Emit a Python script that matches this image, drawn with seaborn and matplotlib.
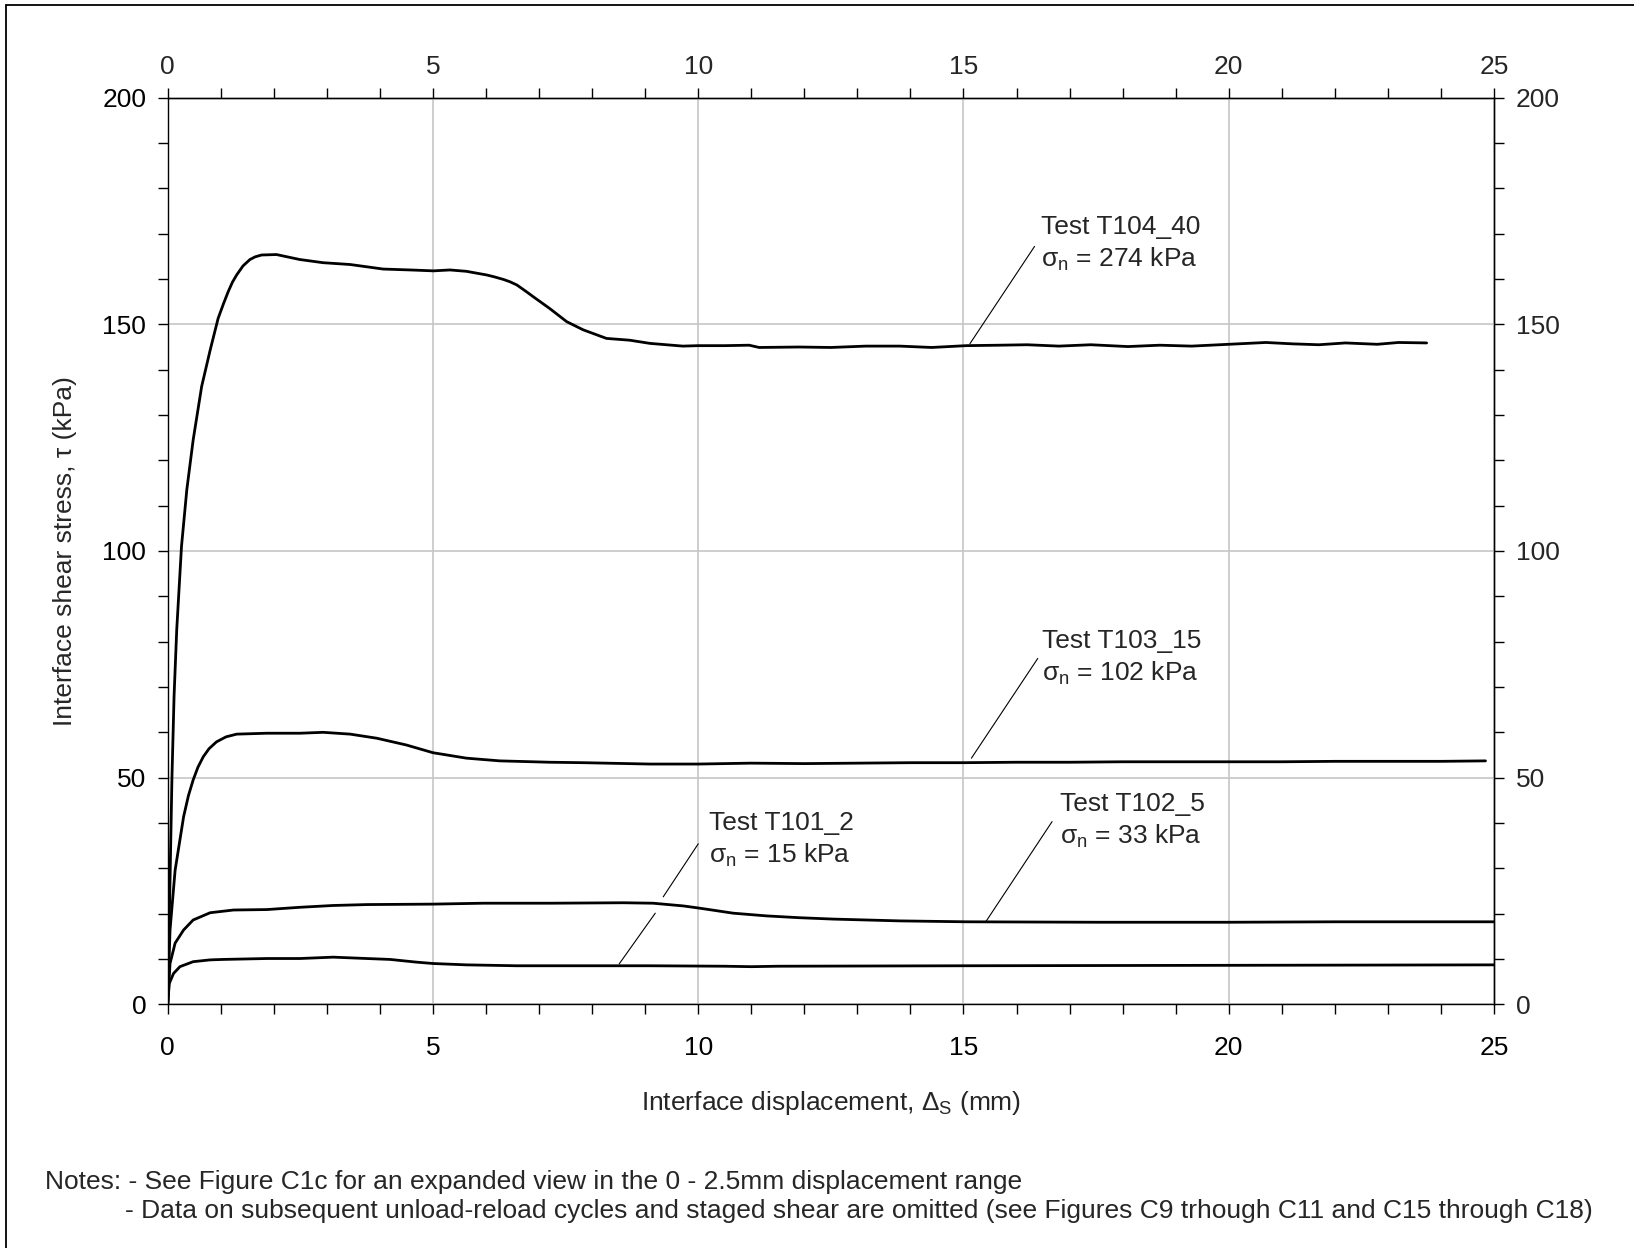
import matplotlib
matplotlib.use("Agg")
import matplotlib.pyplot as plt
from matplotlib.lines import Line2D
from matplotlib.ticker import MultipleLocator
import numpy as np
import pandas as pd
import seaborn as sns

# ---- shear stress vs displacement for each test ----
t104_x = [0, 0.04, 0.08, 0.12, 0.17, 0.26, 0.36, 0.48, 0.64, 0.80, 0.95, 1.05, 1.14,
          1.22, 1.30, 1.42, 1.55, 1.65, 1.77, 2.05, 2.49, 2.93, 3.44, 4.06, 4.57, 5.01,
          5.32, 5.63, 6.01, 6.15, 6.33, 6.45, 6.58, 6.75, 6.89, 7.20, 7.52, 7.83, 8.27,
          8.71, 9.09, 9.71, 10.0, 10.5, 10.96, 11.15, 11.9, 12.5, 13.16, 13.8, 14.4,
          15.05, 15.67, 16.2, 16.8, 17.4, 18.1, 18.7, 19.3, 20.0, 20.7, 21.2, 21.7,
          22.2, 22.8, 23.2, 23.73]
t104_y = [0, 25, 50, 68, 82.6, 101, 113.5, 124.5, 136.3, 144.3, 151.3, 154.5, 157.2,
          159.3, 160.9, 162.9, 164.3, 164.9, 165.3, 165.4, 164.3, 163.6, 163.2, 162.2,
          162.0, 161.8, 162.0, 161.7, 160.9, 160.5, 159.9, 159.4, 158.7, 157.3, 156.1,
          153.5, 150.6, 148.8, 146.9, 146.5, 145.8, 145.2, 145.3, 145.3, 145.4, 144.9,
          145.0, 144.9, 145.2, 145.2, 144.9, 145.3, 145.4, 145.5, 145.2, 145.5, 145.1,
          145.4, 145.2, 145.6, 146.0, 145.7, 145.5, 145.9, 145.6, 146.0, 145.9]

t103_x = [0, 0.044, 0.14, 0.30, 0.39, 0.48, 0.57, 0.67, 0.78, 0.92, 1.10, 1.30, 1.87,
          2.49, 2.93, 3.44, 3.94, 4.50, 5.0, 5.63, 6.26, 7.2, 7.83, 9.09, 10.0, 11.0,
          12.0, 13.0, 14.0, 15.0, 16.0, 17.0, 18.0, 19.0, 20.0, 21.0, 22.0, 23.0, 24.0,
          24.84]
t103_y = [0, 16.4, 29.6, 41.4, 46.0, 49.5, 52.3, 54.6, 56.4, 57.9, 59.0, 59.6, 59.8,
          59.8, 60.0, 59.6, 58.7, 57.2, 55.5, 54.3, 53.7, 53.4, 53.3, 53.0, 53.0, 53.2,
          53.1, 53.2, 53.3, 53.3, 53.4, 53.4, 53.5, 53.5, 53.5, 53.5, 53.6, 53.6, 53.6,
          53.7]

t102_x = [0, 0.044, 0.14, 0.30, 0.48, 0.80, 1.24, 1.87, 2.49, 3.12, 3.75, 5.0, 5.95,
          7.2, 8.59, 9.15, 9.72, 10.03, 10.66, 11.29, 11.91, 12.54, 13.17, 13.8, 15.05,
          17.56, 20.0, 22.0, 25.0]
t102_y = [0, 9.0, 13.5, 16.4, 18.6, 20.2, 20.8, 20.9, 21.4, 21.8, 22.0, 22.1, 22.3,
          22.3, 22.4, 22.3, 21.7, 21.2, 20.1, 19.5, 19.1, 18.8, 18.6, 18.4, 18.2, 18.1,
          18.1, 18.2, 18.2]

t101_x = [0, 0.03, 0.11, 0.23, 0.48, 0.80, 1.05, 1.87, 2.49, 3.12, 3.75, 4.19, 4.69,
          5.0, 5.63, 6.58, 9.09, 10.5, 11.0, 11.5, 15.0, 20.0, 25.0]
t101_y = [0, 4.6, 6.8, 8.3, 9.4, 9.8, 9.9, 10.1, 10.1, 10.4, 10.1, 9.9, 9.3, 9.0, 8.7,
          8.5, 8.5, 8.4, 8.3, 8.4, 8.5, 8.6, 8.7]

test_names = ["T104_40", "T103_15", "T102_5", "T101_2"]
normal_stress = [274, 102, 33, 15]

# label anchor (left x, baseline of first line) and leader segments per test
label_x = [16.47, 16.48, 16.82, 10.2]
label_y = [169.9, 78.5, 42.7, 38.5]
leaders = [
    [((15.12, 145.7), (16.34, 167.2))],
    [((15.15, 54.3), (16.40, 76.3))],
    [((15.42, 18.2), (16.67, 40.3))],
    [((8.51, 8.9), (9.19, 20.1)), ((9.34, 23.7), (10.0, 35.4))],
]

x_ticks = [0, 5, 10, 15, 20, 25]
y_ticks = [0, 50, 100, 150, 200]

frames = []
for name, xs, ys in zip(test_names,
                        [t104_x, t103_x, t102_x, t101_x],
                        [t104_y, t103_y, t102_y, t101_y]):
    frames.append(pd.DataFrame({"test": name, "disp": xs, "tau": ys}))
df = pd.concat(frames, ignore_index=True)

sns.set_theme(style="white")
plt.rcParams["font.family"] = ["Liberation Sans", "DejaVu Sans"]
plt.rcParams["mathtext.fontset"] = "custom"
plt.rcParams["mathtext.rm"] = "Liberation Sans"
plt.rcParams["mathtext.it"] = "Liberation Sans:italic"
plt.rcParams["mathtext.bf"] = "Liberation Sans:bold"

W, H = 1634, 1248
fig = plt.figure(figsize=(W / 100, H / 100), dpi=100)
fig.patch.set_facecolor("white")

L, R, T, B = 167.7, 1494.0, 97.7, 1004.3
ax = fig.add_axes([L / W, 1 - B / H, (R - L) / W, (B - T) / H])

sns.lineplot(data=df, x="disp", y="tau", units="test", estimator=None, sort=False,
             color="black", lw=2.0, ax=ax, legend=False)
for ln in ax.lines:
    ln.set_solid_joinstyle("round")

ax.set_xlim(0, 25)
ax.set_ylim(0, 200)
ax.set_xticks(x_ticks)
ax.set_yticks(y_ticks)
ax.xaxis.set_minor_locator(MultipleLocator(1))
ax.yaxis.set_minor_locator(MultipleLocator(10))
ax.grid(which="major", color="#c6c6c6", lw=1.2)
ax.set_axisbelow(True)

FS = 19
for s in ax.spines.values():
    s.set_color("black")
    s.set_linewidth(1.0)
    s.set_visible(True)

ax.tick_params(axis="both", which="both", direction="out", length=7, width=1.0,
               color="black", labelsize=FS, labelcolor="black")
ax.tick_params(axis="x", which="both", bottom=True, pad=15.5)
ax.tick_params(axis="y", which="both", left=True, pad=8.5)

top = ax.secondary_xaxis("top")
top.set_xticks(x_ticks)
top.xaxis.set_minor_locator(MultipleLocator(1))
top.tick_params(which="both", direction="out", length=7, width=1.0, color="black",
                labelsize=FS, pad=6.5)
top.spines["top"].set_linewidth(1.0)

right = ax.secondary_yaxis("right")
right.set_yticks(y_ticks)
right.yaxis.set_minor_locator(MultipleLocator(10))
right.tick_params(which="both", direction="out", length=7, width=1.0, color="black",
                  labelsize=FS, pad=8.5)
right.spines["right"].set_linewidth(1.0)

ax.set_xlabel("Interface displacement, $\\Delta_{\\mathrm{S}}$ (mm)", fontsize=FS)
ax.xaxis.label.set_va("baseline")
ax.xaxis.set_label_coords(0.5, (B - 1110) / (B - T))
ax.set_ylabel("Interface shear stress, τ (kPa)", fontsize=FS)
ax.yaxis.label.set_va("center")
ax.yaxis.set_label_coords((64.6 - L) / (R - L), 0.5)

# test labels with leader lines
for name, sn, lx, ly, segs in zip(test_names, normal_stress, label_x, label_y, leaders):
    ax.text(lx, ly, f"Test {name}", fontsize=FS, va="baseline", ha="left")
    ax.text(lx, ly - 7.2, f"σ$_\\mathrm{{n}}$ = {sn} kPa", fontsize=FS,
            va="baseline", ha="left")
    for (x0, y0), (x1, y1) in segs:
        ax.plot([x0, x1], [y0, y1], color="black", lw=0.8)

# notes below the chart
fig.text(45 / W, 1 - 1189 / H,
         "Notes: - See Figure C1c for an expanded view in the 0 - 2.5mm displacement range",
         fontsize=FS, va="baseline", ha="left")
fig.text(125 / W, 1 - 1218 / H,
         "- Data on subsequent unload-reload cycles and staged shear are omitted "
         "(see Figures C9 trhough C11 and C15 through C18)",
         fontsize=FS, va="baseline", ha="left")

# page frame
fig.add_artist(Line2D([6 / W, 6 / W], [0, 1 - 5 / H], color="black", lw=1.3,
                      transform=fig.transFigure))
fig.add_artist(Line2D([6 / W, 1], [1 - 5 / H, 1 - 5 / H], color="black", lw=1.3,
                      transform=fig.transFigure))

fig.savefig("out.png", dpi=100, facecolor="white")
